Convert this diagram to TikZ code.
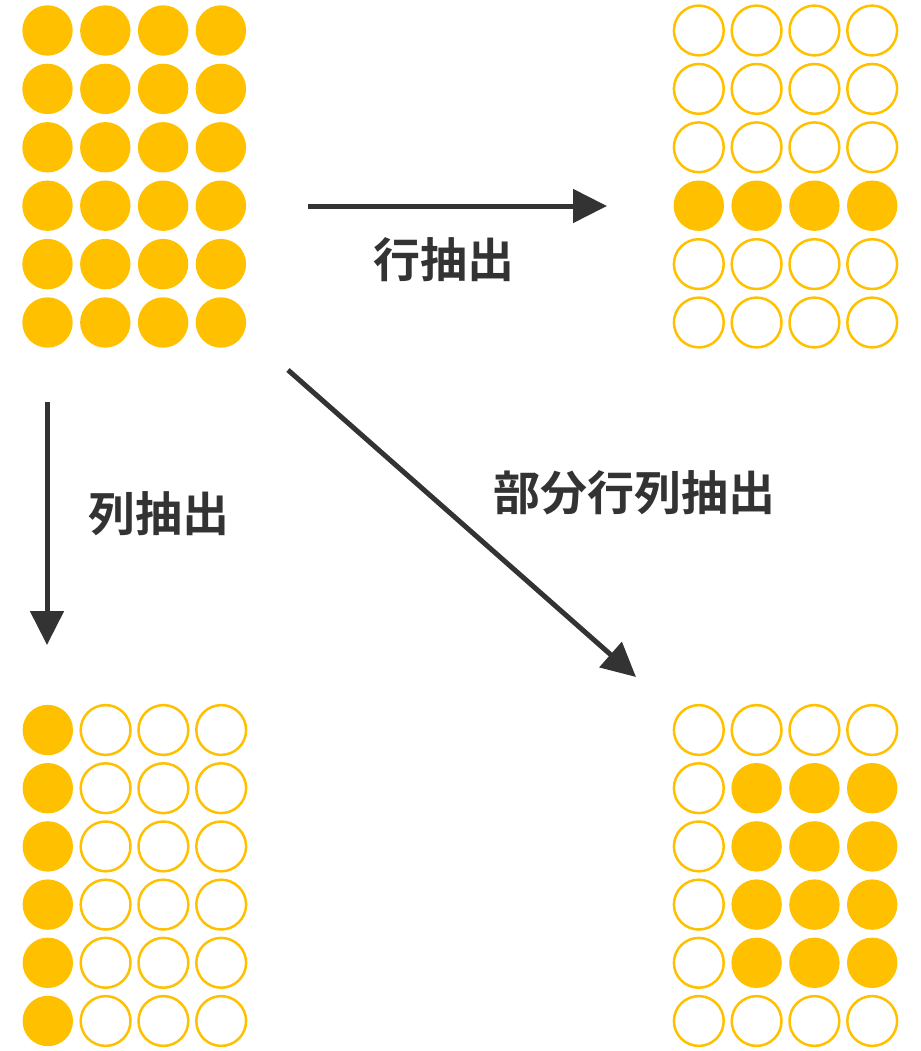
\documentclass[tikz,border=0pt]{standalone}
\usepackage{fontspec}
\newfontfamily\cjk[BoldFont={Noto Sans CJK JP Bold}]{Noto Sans CJK JP}
\usetikzlibrary{arrows.meta}
\definecolor{gold}{HTML}{FFC000}
\definecolor{ink}{HTML}{333333}
\begin{document}
\begin{tikzpicture}[x=1pt,y=-1pt,
  full/.style={circle,fill=gold,minimum size=50.4pt,inner sep=0pt},
  hollow/.style={circle,draw=gold,line width=2.5pt,minimum size=49.8pt,inner sep=0pt},
  conn/.style={draw=ink,line width=5pt,-{Triangle[length=34pt,width=33pt]}},
  lbl/.style={text=ink,font=\cjk\bfseries\fontsize{47pt}{51pt}\selectfont,inner sep=0pt}]
\useasboundingbox (0,0) rectangle (920,1051);
% top-left: all filled
\foreach \r in {0,...,5}{
  \foreach \c in {0,...,3}{
    \node[full] (tl-\r-\c) at ({47.5+57.8*\c},{30.5+58.4*\r}) {};
  }
}
% top-right: row 3 filled
\foreach \r in {0,...,5}{
  \foreach \c in {0,...,3}{
    \ifnum\r=3 \def\st{full}\else\def\st{hollow}\fi
    \node[\st] (tr-\r-\c) at ({698.8+57.8*\c},{30.5+58.4*\r}) {};
  }
}
% bottom-left: column 0 filled
\foreach \r in {0,...,5}{
  \foreach \c in {0,...,3}{
    \ifnum\c=0 \def\st{full}\else\def\st{hollow}\fi
    \node[\st] (bl-\r-\c) at ({47.8+57.8*\c},{730+58.2*\r}) {};
  }
}
% bottom-right: inner block filled
\foreach \r in {0,...,5}{
  \foreach \c in {0,...,3}{
    \pgfmathtruncatemacro\isfull{and(and(\r>0,\r<5),\c>0)}
    \ifnum\isfull=1 \def\st{full}\else\def\st{hollow}\fi
    \node[\st] (br-\r-\c) at ({698.8+57.8*\c},{730+58.2*\r}) {};
  }
}
% connectors
\coordinate (a1s) at (308,206);
\coordinate (a1e) at (607,206);
\coordinate (a2s) at (47,402);
\coordinate (a2e) at (47,645);
\coordinate (a3s) at (288,370);
\coordinate (a3e) at (636,677);
\draw[conn] (a1s) -- (a1e);
\draw[conn] (a2s) -- (a2e);
\draw[conn] (a3s) -- (a3e);
% labels
\node[lbl] (l1) at (444,260) {行抽出};
\node[lbl] (l2) at (159,514) {列抽出};
\node[lbl] (l3) at (634,493) {部分行列抽出};
\end{tikzpicture}
\end{document}
